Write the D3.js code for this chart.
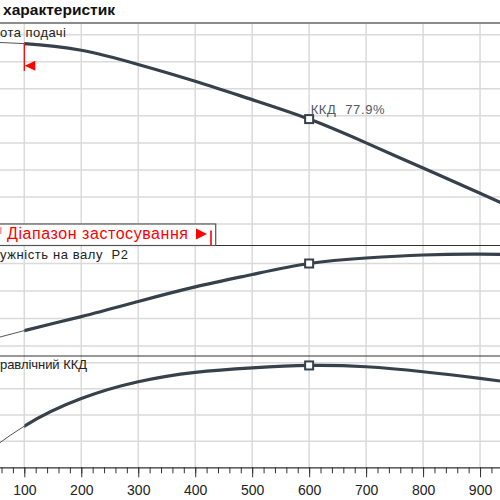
<!DOCTYPE html>
<html>
<head>
<meta charset="utf-8">
<script src="https://cdn.jsdelivr.net/npm/d3@7"></script>
<style>
  body { margin: 0; background: #fff; }
  svg { display: block; font-family: "Liberation Sans", Arial, sans-serif; }
  text { white-space: pre; }
</style>
</head>
<body>
<div id="chart"></div>
<script>
// pump curves, flow on x
var flow = [0, 100, 200, 300, 400, 500, 600, 700, 800, 900, 1000];
var head = [38.75, 38.35, 37.12, 34.5, 31.4, 28.0, 24.4, 20.0, 15.35, 10.7, 5.9];
var power = [1.0, 1.56, 2.07, 2.62, 3.15, 3.6, 4.0, 4.2, 4.31, 4.34, 4.3];
var eff = [0, 31.5, 52.6, 65.4, 72.6, 76.1, 77.9, 76.9, 73.1, 68.0, 62.3];
var xTicks = [0, 100, 200, 300, 400, 500, 600, 700, 800, 900, 1000];
var xLabels = [100, 200, 300, 400, 500, 600, 700, 800, 900];
var dutyFlow = 600;
var minFlow = 100;

var width = 500;
var height = 500;

var svg = d3.select("#chart")
    .append("svg")
    .attr("width", width)
    .attr("height", height);

// x scale, left part of the plot is cropped away
var x = d3.scaleLinear().domain([0, 1000]).range([-32.66, 537.0]);

// panels: top / bottom pixel rows
var pH = { top: 23, bottom: 245.5 };
var pP = { top: 245.5, bottom: 356 };
var pE = { top: 356, bottom: 467.3 };

var yH = d3.scaleLinear().domain([0, 40]).range([251.1, 34.7]);
var yP = d3.scaleLinear().domain([0, 5]).range([373.5, 236]);
var yE = d3.scaleLinear().domain([0, 80]).range([467.3, 362.7]);

var defs = svg.append("defs");
[["clipH", pH], ["clipP", pP], ["clipE", pE]].forEach(function(c) {
    defs.append("clipPath").attr("id", c[0])
        .append("rect")
        .attr("x", -50).attr("y", c[1].top)
        .attr("width", 600).attr("height", c[1].bottom - c[1].top);
});
// left of min flow -> thin line, right -> thick line
defs.append("clipPath").attr("id", "clipLeft")
    .append("rect").attr("x", -50).attr("y", 0)
    .attr("width", x(minFlow) + 50).attr("height", height);
defs.append("clipPath").attr("id", "clipRight")
    .append("rect").attr("x", x(minFlow)).attr("y", 0)
    .attr("width", 600).attr("height", height);

var gridColor = "#dadada";

// horizontal grid per panel
function hGrid(scale, vals) {
    svg.append("g").selectAll("line")
        .data(vals)
        .enter()
        .append("line")
        .attr("x1", 0).attr("x2", width)
        .attr("y1", function(d) { return scale(d); })
        .attr("y2", function(d) { return scale(d); })
        .attr("stroke", gridColor)
        .attr("stroke-width", 1.5);
}
hGrid(yH, [5, 10, 15, 20, 25, 30, 35, 40]);
hGrid(yP, [1, 2, 3, 4]);
hGrid(yE, [20, 40, 60, 80]);

// vertical grid
svg.append("g").selectAll("line")
    .data(xTicks)
    .enter()
    .append("line")
    .attr("x1", function(d) { return x(d); })
    .attr("x2", function(d) { return x(d); })
    .attr("y1", pH.top).attr("y2", pE.bottom)
    .attr("stroke", gridColor)
    .attr("stroke-width", 1.5);

// frame lines
svg.append("line")
    .attr("x1", 0).attr("x2", width)
    .attr("y1", pH.top).attr("y2", pH.top)
    .attr("stroke", "#8c8c8c").attr("stroke-width", 2);
[pP.top, pE.top].forEach(function(yy) {
    svg.append("line")
        .attr("x1", 0).attr("x2", width)
        .attr("y1", yy).attr("y2", yy)
        .attr("stroke", "#333").attr("stroke-width", 1.2);
});

// x axis with minor ticks
var axisG = svg.append("g").attr("transform", "translate(0," + pE.bottom + ")");
axisG.call(d3.axisBottom(x).tickValues(d3.range(0, 1001, 20)).tickSize(6).tickFormat(""))
    .call(function(g) {
        g.select(".domain").attr("stroke", "#333").attr("stroke-width", 1.2);
        g.selectAll(".tick line").attr("stroke", "#333");
    });
var axisMajor = svg.append("g").attr("transform", "translate(0," + pE.bottom + ")");
axisMajor.call(d3.axisBottom(x).tickValues(xLabels).tickSize(10).tickPadding(8))
    .call(function(g) {
        g.select(".domain").remove();
        g.selectAll(".tick line").attr("stroke", "#333");
        g.selectAll(".tick text")
            .attr("font-family", "Liberation Sans, Arial, sans-serif")
            .attr("font-size", 14)
            .attr("fill", "#222");
    });

// curves
function drawCurve(vals, scale, clip) {
    var pts = flow.map(function(q, i) { return [q, vals[i]]; });
    var line = d3.line()
        .x(function(d) { return x(d[0]); })
        .y(function(d) { return scale(d[1]); })
        .curve(d3.curveNatural);
    var g = svg.append("g").attr("clip-path", "url(#" + clip + ")");
    g.append("g").attr("clip-path", "url(#clipLeft)")
        .append("path")
        .attr("d", line(pts))
        .attr("fill", "none")
        .attr("stroke", "#555")
        .attr("stroke-width", 1);
    g.append("g").attr("clip-path", "url(#clipRight)")
        .append("path")
        .attr("d", line(pts))
        .attr("fill", "none")
        .attr("stroke", "#37414b")
        .attr("stroke-width", 3.2);
    // duty point marker
    var i = flow.indexOf(dutyFlow);
    g.append("rect")
        .attr("x", x(dutyFlow) - 4).attr("y", scale(vals[i]) - 4)
        .attr("width", 8).attr("height", 8)
        .attr("fill", "#fff")
        .attr("stroke", "#37414b")
        .attr("stroke-width", 2);
}
drawCurve(head, yH, "clipH");
drawCurve(power, yP, "clipP");
drawCurve(eff, yE, "clipE");

// min flow marker
var hMin = head[flow.indexOf(minFlow)];
svg.append("line")
    .attr("x1", x(minFlow)).attr("x2", x(minFlow))
    .attr("y1", yH(hMin)).attr("y2", 71)
    .attr("stroke", "#ff0000").attr("stroke-width", 1.3);
svg.append("path")
    .attr("d", "M" + (x(minFlow) + 0.5) + ",65.7 L" + (x(minFlow) + 11) + ",60.7 L" + (x(minFlow) + 11) + ",70.7 Z")
    .attr("fill", "#ff0000");

// efficiency label at duty point
svg.append("text")
    .attr("x", x(dutyFlow) + 1.5).attr("y", 113.5)
    .attr("font-size", 13)
    .attr("textLength", 74)
    .attr("lengthAdjust", "spacing")
    .attr("fill", "#4f5a66")
    .text("ККД  " + eff[flow.indexOf(dutyFlow)] + "%");

// range box
svg.append("rect")
    .attr("x", -2).attr("y", 224)
    .attr("width", 217.7).attr("height", 21.5)
    .attr("fill", "#fff")
    .attr("stroke", "#555")
    .attr("stroke-width", 1.2);
svg.append("rect")
    .attr("x", 0).attr("y", 227).attr("width", 1.6).attr("height", 7)
    .attr("fill", "#ff9999");
svg.append("text")
    .attr("x", 7).attr("y", 238.5)
    .attr("font-size", 16)
    .attr("textLength", 181)
    .attr("lengthAdjust", "spacing")
    .attr("fill", "#ff0000")
    .text("Діапазон застосування");
svg.append("path")
    .attr("d", "M196,228.5 L207,234 L196,239.5 Z")
    .attr("fill", "#ff0000");
svg.append("line")
    .attr("x1", 211).attr("x2", 211)
    .attr("y1", 230.5).attr("y2", 245)
    .attr("stroke", "#ff0000").attr("stroke-width", 1.6);

// panel labels (cut on the left)
svg.append("text").attr("x", 0).attr("y", 36.5).attr("font-size", 13).attr("fill", "#222")
    .attr("textLength", 66).attr("lengthAdjust", "spacing").text("ота подачі");
svg.append("text").attr("x", 0).attr("y", 258.5).attr("font-size", 13).attr("fill", "#222")
    .attr("textLength", 128).attr("lengthAdjust", "spacing").text("ужність на валу  P2");
svg.append("text").attr("x", 0).attr("y", 369).attr("font-size", 13).attr("fill", "#222")
    .attr("textLength", 87).attr("lengthAdjust", "spacing").text("равлічний ККД");

// title
svg.append("text")
    .attr("x", 3).attr("y", 14.5)
    .attr("font-size", 15.5)
    .attr("font-weight", "bold")
    .attr("textLength", 112)
    .attr("lengthAdjust", "spacingAndGlyphs")
    .attr("fill", "#111")
    .text("характеристик");
</script>
</body>
</html>
